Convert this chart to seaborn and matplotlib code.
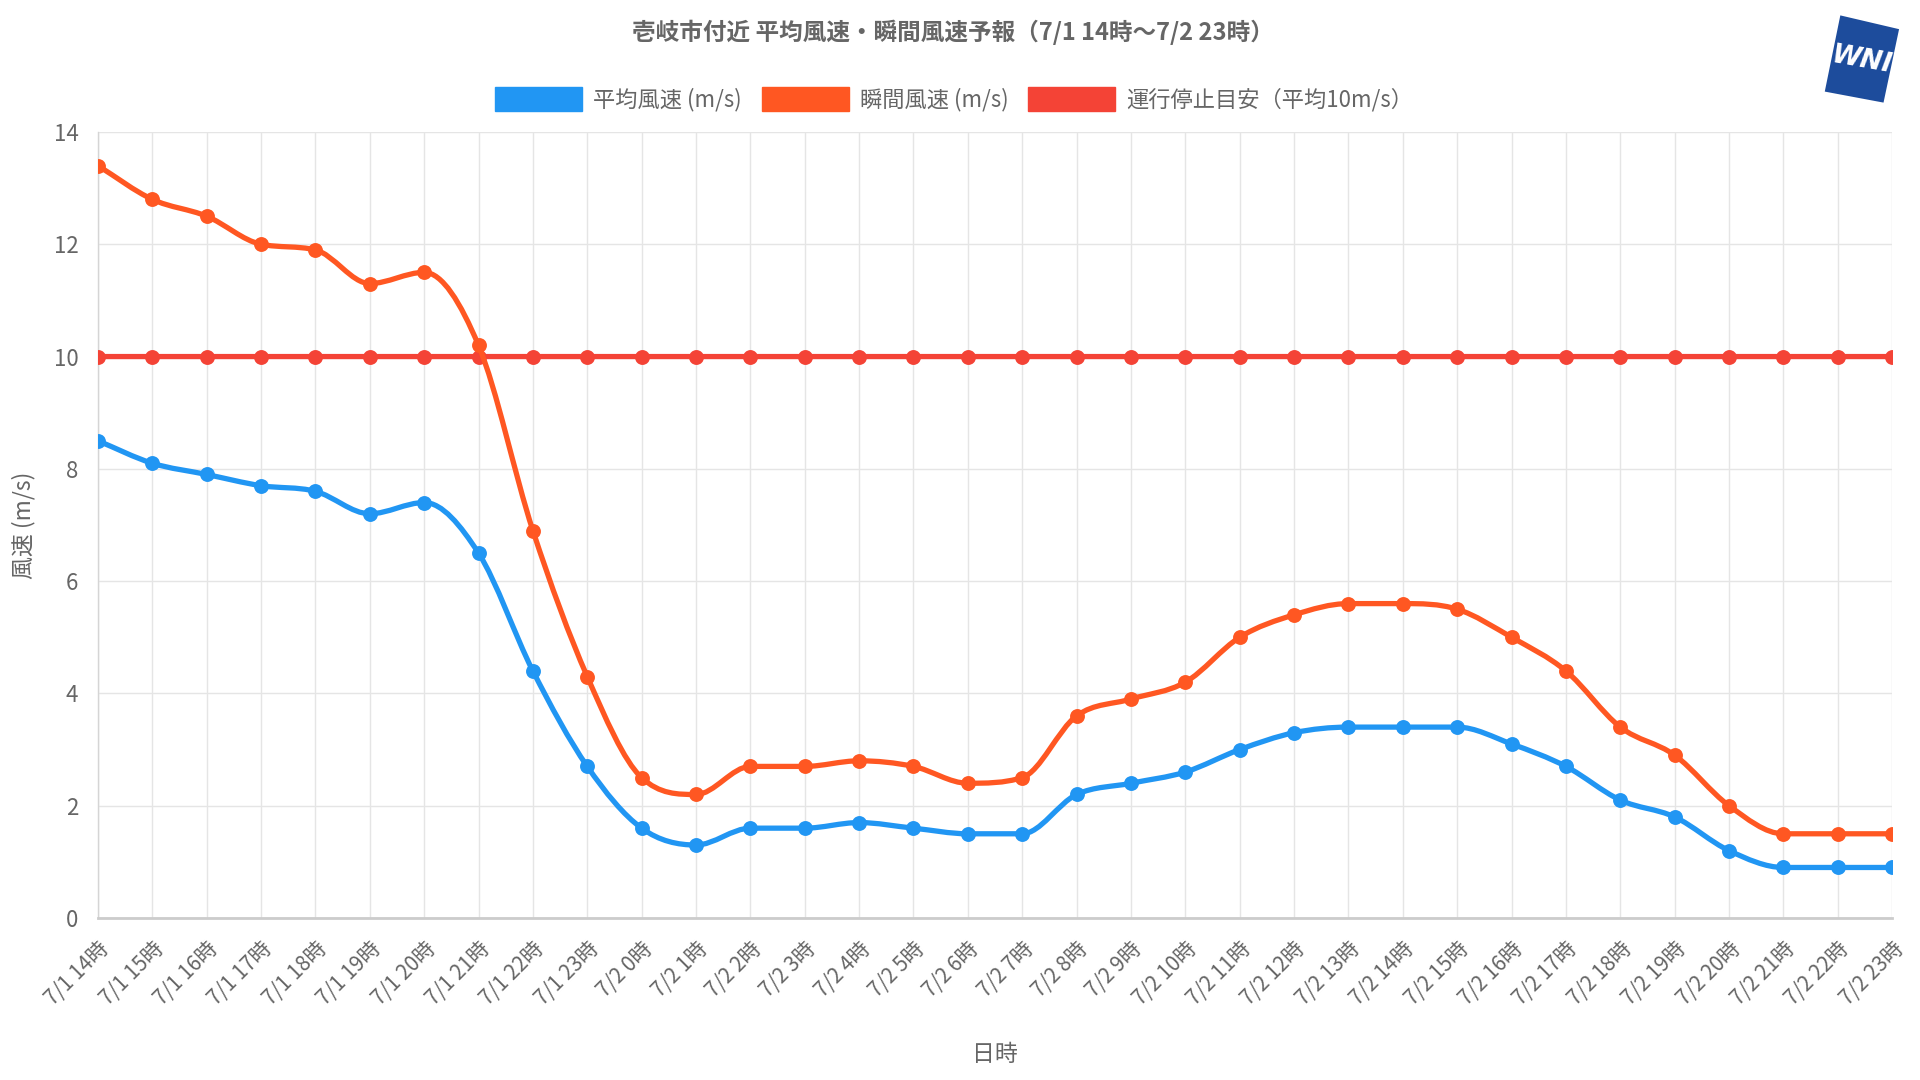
import numpy as np
import matplotlib
matplotlib.use("Agg")
import matplotlib.pyplot as plt
from matplotlib.path import Path
from matplotlib.patches import PathPatch, Patch, Polygon
import seaborn as sns
import pandas as pd

# data
labels = ([f"7/1 {h}時" for h in range(14, 24)] +
          [f"7/2 {h}時" for h in range(0, 24)])
avg_wind = [8.5, 8.1, 7.9, 7.7, 7.6, 7.2, 7.4, 6.5, 4.4, 2.7,
            1.6, 1.3, 1.6, 1.6, 1.7, 1.6, 1.5, 1.5, 2.2, 2.4,
            2.6, 3.0, 3.3, 3.4, 3.4, 3.4, 3.1, 2.7, 2.1, 1.8,
            1.2, 0.9, 0.9, 0.9]
gust_wind = [13.4, 12.8, 12.5, 12.0, 11.9, 11.3, 11.5, 10.2, 6.9, 4.3,
             2.5, 2.2, 2.7, 2.7, 2.8, 2.7, 2.4, 2.5, 3.6, 3.9,
             4.2, 5.0, 5.4, 5.6, 5.6, 5.5, 5.0, 4.4, 3.4, 2.9,
             2.0, 1.5, 1.5, 1.5]
stop_level = [10] * len(labels)

series_names = ["平均風速 (m/s)", "瞬間風速 (m/s)", "運行停止目安（平均10m/s）"]
colors = ["#2196F3", "#FF5722", "#F44336"]

sns.set_style("white")
plt.rcParams["font.family"] = ["Noto Sans CJK JP", "DejaVu Sans"]

TXT = "#666666"


def monotone_path(xs, ys):
    # monotone cubic (Fritsch-Carlson) as bezier segments
    xs = np.asarray(xs, float)
    ys = np.asarray(ys, float)
    n = len(xs)
    d = np.diff(ys) / np.diff(xs)
    m = np.zeros(n)
    m[0], m[-1] = d[0], d[-1]
    for k in range(1, n - 1):
        m[k] = 0 if d[k - 1] * d[k] <= 0 else (d[k - 1] + d[k]) / 2
    for k in range(n - 1):
        if d[k] == 0:
            m[k] = m[k + 1] = 0
            continue
        a, b = m[k] / d[k], m[k + 1] / d[k]
        s = a * a + b * b
        if s > 9:
            t = 3 / np.sqrt(s)
            m[k] = t * a * d[k]
            m[k + 1] = t * b * d[k]
    verts = [(xs[0], ys[0])]
    codes = [Path.MOVETO]
    for k in range(n - 1):
        h = (xs[k + 1] - xs[k]) / 3
        verts += [(xs[k] + h, ys[k] + m[k] * h),
                  (xs[k + 1] - h, ys[k + 1] - m[k + 1] * h),
                  (xs[k + 1], ys[k + 1])]
        codes += [Path.CURVE4] * 3
    return Path(verts, codes)


x = np.arange(len(labels))
df = pd.DataFrame({"x": np.tile(x, 3),
                   "value": avg_wind + gust_wind + stop_level,
                   "series": np.repeat(series_names, len(labels))})

fig = plt.figure(figsize=(19.2, 10.8), dpi=100)
ax = fig.add_axes([0.051, 0.15, 0.9345, 0.7278])

# draw order: threshold at bottom, average on top
for vals, col, z in [(stop_level, colors[2], 3), (gust_wind, colors[1], 4),
                     (avg_wind, colors[0], 5)]:
    ax.add_patch(PathPatch(monotone_path(x, vals), fill=False, edgecolor=col,
                           lw=3.8, zorder=z, capstyle="round", joinstyle="round"))

for name, col, z in zip(series_names, colors, [5.5, 4.5, 3.5]):
    sub = df[df["series"] == name]
    sns.scatterplot(data=sub, x="x", y="value", ax=ax, color=col, s=115,
                    edgecolor=col, linewidth=0, zorder=z, legend=False)

ax.set_xlim(0, len(labels) - 1)
ax.set_ylim(0, 14)
ax.set_xticks(x)
ax.set_xticklabels(labels, rotation=45, ha="right", rotation_mode="anchor",
                   fontsize=15, color=TXT)
ax.set_yticks(range(0, 15, 2))
ax.tick_params(axis="y", labelsize=16, labelcolor=TXT, length=9,
               color="#e5e5e5", width=1, pad=5)
ax.tick_params(axis="x", length=10, color="#e5e5e5", width=1, pad=4)
ax.grid(True, color="#e5e5e5", lw=1)
ax.set_axisbelow(True)
for side in ["top", "right"]:
    ax.spines[side].set_visible(False)
ax.spines["bottom"].set_color("#cccccc")
ax.spines["bottom"].set_linewidth(2)
ax.spines["left"].set_color("#d5d5d5")
ax.spines["left"].set_linewidth(1)

ax.set_xlabel("日時", fontsize=16.5, color=TXT)
ax.xaxis.label.set_va("center")
ax.xaxis.set_label_coords(0.5, -0.174)
ax.set_ylabel("風速 (m/s)", fontsize=16.5, color=TXT)
ax.yaxis.label.set_va("center")
ax.yaxis.set_label_coords(-0.0415, 0.50)

fig.text(0.4965, 0.970, "壱岐市付近 平均風速・瞬間風速予報（7/1 14時〜7/2 23時）",
         ha="center", va="center", fontsize=17, fontweight="bold", color=TXT)

handles = [Patch(facecolor=c, edgecolor=c) for c in colors]
fig.legend(handles, series_names, loc="center", bbox_to_anchor=(0.497, 0.908),
           ncol=3, frameon=False, fontsize=16, labelcolor=TXT,
           handlelength=3.9, handleheight=1.3, handletextpad=0.5,
           columnspacing=0.9)

# logo
lax = fig.add_axes([0.945, 0.905, 0.045, 0.085])
lax.set_xlim(0, 1)
lax.set_ylim(0, 1)
lax.axis("off")
lax.add_patch(Polygon([(0.12, 0.12), (0.30, 0.95), (0.98, 0.80), (0.80, 0.0)],
                      closed=True, facecolor="#1d4c9c", edgecolor="none"))
lax.text(0.55, 0.46, "WNI", color="white", fontsize=19, fontweight="bold",
         style="italic", ha="center", va="center", rotation=-10,
         family="DejaVu Sans")

fig.savefig("out.png", dpi=100, facecolor="white")
